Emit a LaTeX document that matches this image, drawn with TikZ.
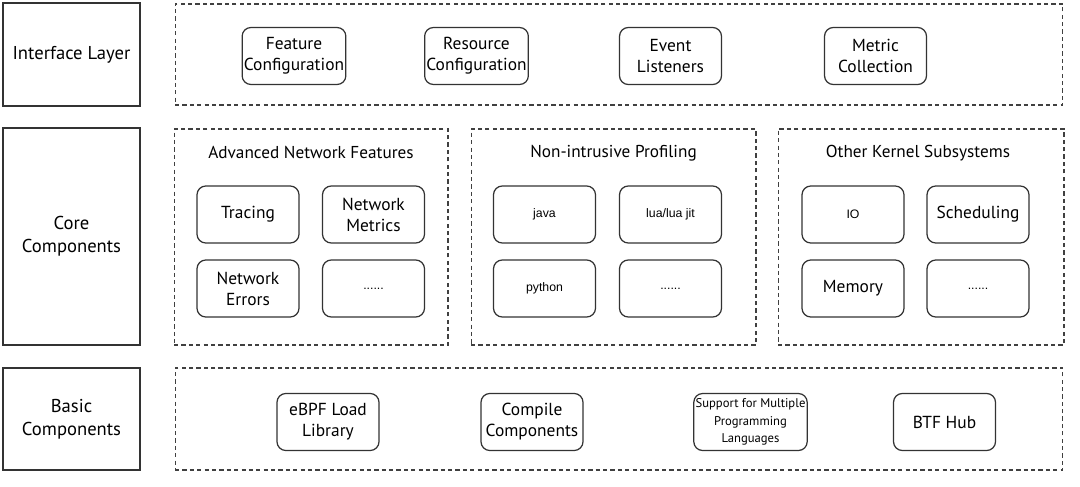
\documentclass[tikz,border=0pt]{standalone}
\usepackage{fontspec}
\setmainfont{PT Sans}
\newfontfamily\arialfont{Liberation Sans}
\usetikzlibrary{positioning}
\tikzset{
  layer/.style={
    rectangle, draw=black!80, line width=0.8pt,
    minimum width=2.74cm, align=center,
    font=\fontsize{10.6}{13}\selectfont
  },
  group/.style={
    rectangle, draw=black!75, line width=0.6pt,
    dash pattern=on 2.4pt off 1.8pt
  },
  item/.style={
    rectangle, rounded corners=5pt, draw=black!80, line width=0.7pt,
    minimum width=2.04cm, minimum height=1.14cm,
    align=center, inner sep=1pt, font=\fontsize{9.9}{12}\selectfont
  },
  title/.style={font=\fontsize{9.8}{12}\selectfont, inner sep=0pt},
  tiny/.style={font=\arialfont\fontsize{7}{8}\selectfont},
}

\begin{document}
\begin{tikzpicture}[x=0.02cm, y=-0.02cm]
\useasboundingbox (0,0) rectangle (1080,487);

% Layer labels on the left
\node[layer, minimum height=2.06cm] at (71.5,54.5) (ifl) {Interface Layer};
\node[layer, minimum height=4.34cm] at (71.5,236.5) (core) {Core\\Components};
\node[layer, minimum height=2.04cm] at (71.5,419) (basic) {Basic\\Components};

% Dashed groups
\node[group, minimum width=17.76cm, minimum height=2.02cm] at (619,54.5) (ifg) {};
\node[group, minimum width=5.48cm, minimum height=4.32cm] at (311,237) (adv) {};
\node[group, minimum width=5.7cm, minimum height=4.32cm] at (613.5,237) (prof) {};
\node[group, minimum width=5.72cm, minimum height=4.32cm] at (921,237) (kern) {};
\node[group, minimum width=17.76cm, minimum height=2.04cm] at (619,419) (basg) {};

% Group titles
\node[title] at (311,152) (advt) {Advanced Network Features};
\node[title] at (613.5,153) (proft) {Non-intrusive Profiling};
\node[title] at (918,153) (kernt) {Other Kernel Subsystems};

% Interface layer items
\node[item] at (294,56) (feat) {Feature\\Configuration};
\node[item] at (476.5,56) (res) {Resource\\Configuration};
\node[item] at (670.5,56) (evt) {Event\\Listeners};
\node[item] at (875.5,56) (met) {Metric\\Collection};

% Core items
\node[item] at (248,214.5) (trace) {Tracing};
\node[item] at (373.5,214.5) (nmet) {Network\\Metrics};
\node[item] at (248,288.5) (nerr) {Network\\Errors};
\node[item, tiny] at (373.5,288.5) (advmore) {......};

\node[item, tiny] at (544.5,214.5) (java) {java};
\node[item, tiny] at (670.5,214.5) (lua) {lua/lua jit};
\node[item, tiny] at (544.5,288.5) (py) {python};
\node[item, tiny] at (670.5,288.5) (profmore) {......};

\node[item, tiny] at (853,214.5) (io) {IO};
\node[item] at (978,214.5) (sched) {Scheduling};
\node[item] at (853,288.5) (mem) {Memory};
\node[item, tiny] at (978,288.5) (kernmore) {......};

% Basic items
\node[item] at (328,422) (ebpf) {eBPF Load\\Library};
\node[item] at (532,422) (comp) {Compile\\Components};
\node[item, font=\fontsize{7.2}{10}\selectfont] at (750.5,422) (lang) {Support for Multiple\\Programming\\Languages};
\node[item] at (944.5,422) (btf) {BTF Hub};

\end{tikzpicture}
\end{document}
